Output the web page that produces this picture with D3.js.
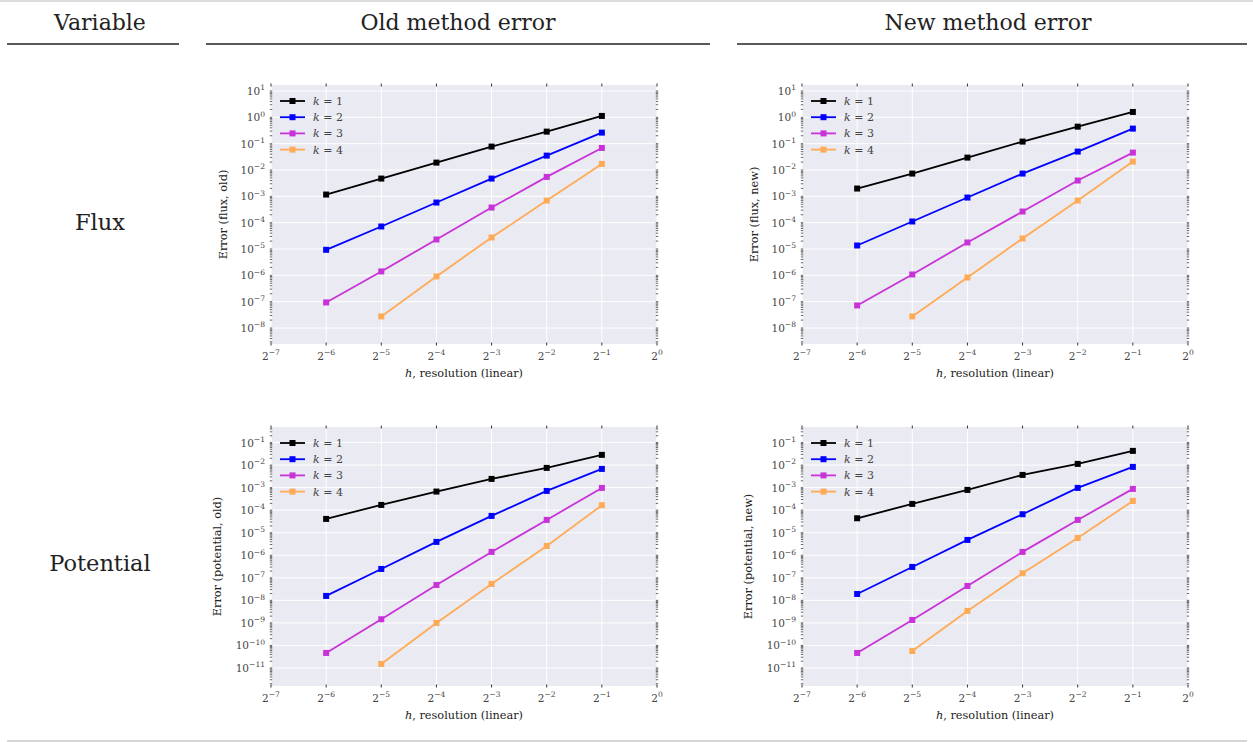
<!DOCTYPE html>
<html><head><meta charset="utf-8">
<script src="https://cdn.jsdelivr.net/npm/d3@7"></script>
<style>body{margin:0;background:#fff}svg{display:block}</style>
</head><body>
<svg id="c" width="1253" height="742"></svg>
<script>
// ---------- data ----------
const hValues = [1/64, 1/32, 1/16, 1/8, 1/4, 1/2];
const seriesNames = ["k = 1", "k = 2", "k = 3", "k = 4"];
const seriesColors = ["#000000", "#0000ff", "#c832d8", "#ffaa55"];
const headers = ["Variable", "Old method error", "New method error"];
const rowLabels = ["Flux", "Potential"];
const xTickExps = [-7, -6, -5, -4, -3, -2, -1, 0];
const fluxYTickExps = [1, 0, -1, -2, -3, -4, -5, -6, -7, -8];
const potYTickExps = [-1, -2, -3, -4, -5, -6, -7, -8, -9, -10, -11];

const fluxOld = [
  [1.17e-3, 4.73e-3, 1.91e-2, 7.75e-2, 2.87e-1, 1.13],
  [9.33e-6, 7.16e-5, 5.82e-4, 4.73e-3, 3.52e-2, 2.63e-1],
  [9.37e-8, 1.41e-6, 2.30e-5, 3.76e-4, 5.47e-3, 6.89e-2],
  [null, 2.76e-8, 9.08e-7, 2.74e-5, 6.92e-4, 1.70e-2]
];
const fluxNew = [
  [1.98e-3, 7.33e-3, 2.96e-2, 1.20e-1, 4.43e-1, 1.60],
  [1.36e-5, 1.11e-4, 9.0e-4, 7.33e-3, 5.0e-2, 3.73e-1],
  [7.2e-8, 1.08e-6, 1.77e-5, 2.65e-4, 3.98e-3, 4.58e-2],
  [null, 2.76e-8, 8.3e-7, 2.51e-5, 6.93e-4, 2.09e-2]
];
const potOld = [
  [4.09e-5, 1.71e-4, 6.69e-4, 2.44e-3, 7.52e-3, 2.84e-2],
  [1.57e-8, 2.47e-7, 3.91e-6, 5.57e-5, 7.16e-4, 6.78e-3],
  [4.63e-11, 1.45e-9, 4.82e-8, 1.41e-6, 3.70e-5, 9.73e-4],
  [null, 1.51e-11, 9.93e-10, 5.35e-8, 2.59e-6, 1.66e-4]
];
const potNew = [
  [4.38e-5, 1.90e-4, 7.93e-4, 3.67e-3, 1.13e-2, 4.27e-2],
  [1.92e-8, 3.03e-7, 4.79e-6, 6.61e-5, 9.73e-4, 8.32e-3],
  [4.63e-11, 1.35e-9, 4.35e-8, 1.41e-6, 3.70e-5, 8.79e-4],
  [null, 5.67e-11, 3.39e-9, 1.59e-7, 5.87e-6, 2.58e-4]
];

// ---------- layout ----------
const svg = d3.select("#c");
const SERIF = "DejaVu Serif, serif";
const panelW = 386, panelH = 259;

// table rules
svg.append("line").attr("x1",0).attr("x2",1253).attr("y1",1).attr("y2",1)
  .attr("stroke","#d0d0d0").attr("stroke-width",1.5);
svg.append("line").attr("x1",7).attr("x2",1247).attr("y1",741).attr("y2",741)
  .attr("stroke","#c8c8c8").attr("stroke-width",1.5);
const headerRules = [[7,179],[206,710],[737,1247]];
const headerCenters = [100, 458, 988];
headerRules.forEach(r => svg.append("line").attr("x1",r[0]).attr("x2",r[1])
  .attr("y1",44).attr("y2",44).attr("stroke","#222").attr("stroke-width",1.3));
headers.forEach((t,i) => svg.append("text").attr("x",headerCenters[i]).attr("y",30)
  .attr("text-anchor","middle").attr("font-family",SERIF).attr("font-size",22)
  .attr("fill","#222").text(t));
const rowCenters = [222, 563];
rowLabels.forEach((t,i) => svg.append("text").attr("x",100).attr("y",rowCenters[i]+8)
  .attr("text-anchor","middle").attr("font-family",SERIF).attr("font-size",22.5)
  .attr("fill","#222").text(t));

function supText(sel, base, exp, size) {
  sel.text(null);
  sel.append("tspan").text(base);
  sel.append("tspan").attr("dy", -size*0.45).attr("font-size", size*0.72)
    .text(exp < 0 ? "\u2212" + (-exp) : String(exp));
}

function panel(x0, y0, data, yExps, yDomLog, ylabel, ylabX) {
  const g = svg.append("g").attr("transform", `translate(${x0},${y0})`);
  const x = d3.scaleLog().base(2).domain([Math.pow(2,-7), 1]).range([0, panelW]);
  const y = d3.scaleLog().domain([Math.pow(10,yDomLog[0]), Math.pow(10,yDomLog[1])]).range([panelH, 0]);
  g.append("rect").attr("width",panelW).attr("height",panelH).attr("fill","#eaeaf2");
  // grid
  const yTicks = yExps.map(e => Math.pow(10,e));
  const xTicks = xTickExps.map(e => Math.pow(2,e));
  g.selectAll(".gy").data(yTicks).enter().append("line")
    .attr("x1",0).attr("x2",panelW).attr("y1",d=>y(d)).attr("y2",d=>y(d))
    .attr("stroke","#fff").attr("stroke-width",1);
  g.selectAll(".gx").data(xTicks).enter().append("line")
    .attr("y1",0).attr("y2",panelH).attr("x1",d=>x(d)).attr("x2",d=>x(d))
    .attr("stroke","#fff").attr("stroke-width",1);
  // minor ticks on left/right
  const minors = [];
  const lo = Math.floor(yDomLog[0]), hi = Math.ceil(yDomLog[1]);
  for (let e = lo; e <= hi; e++) for (let m = 1; m <= 9; m++) {
    const v = m*Math.pow(10,e);
    if (Math.log10(v) >= yDomLog[0] && Math.log10(v) <= yDomLog[1]) minors.push({v, major: m===1});
  }
  [0, panelW].forEach(px => {
    g.selectAll(null).data(minors).enter().append("line")
      .attr("x1",px-1.2).attr("x2",px+1.2).attr("y1",d=>y(d.v)).attr("y2",d=>y(d.v))
      .attr("stroke","#444").attr("stroke-width",0.8);
  });
  [0, panelH].forEach(py => {
    g.selectAll(null).data(xTicks).enter().append("line")
      .attr("y1",py-1.5).attr("y2",py+1.5).attr("x1",d=>x(d)).attr("x2",d=>x(d))
      .attr("stroke","#333").attr("stroke-width",1);
  });
  // y tick labels
  g.selectAll(".yl").data(yExps).enter().append("text")
    .attr("x",-6).attr("y",d=>y(Math.pow(10,d))+4).attr("text-anchor","end")
    .attr("font-family",SERIF).attr("font-size",10.5).attr("fill","#444")
    .each(function(d){ supText(d3.select(this), "10", d, 10.5); });
  // x tick labels
  g.selectAll(".xl").data(xTickExps).enter().append("text")
    .attr("x",d=>x(Math.pow(2,d))).attr("y",panelH+16).attr("text-anchor","middle")
    .attr("font-family",SERIF).attr("font-size",10.5).attr("fill","#444")
    .each(function(d){ supText(d3.select(this), "2", d, 10.5); });
  // axis labels
  const xl = g.append("text").attr("x",panelW/2).attr("y",panelH+33).attr("text-anchor","middle")
    .attr("font-family",SERIF).attr("font-size",11.3).attr("fill","#222");
  xl.append("tspan").attr("font-style","italic").text("h");
  xl.append("tspan").text(", resolution (linear)");
  g.append("text").attr("transform",`translate(${ylabX},${panelH/2}) rotate(-90)`)
    .attr("text-anchor","middle").attr("font-family",SERIF).attr("font-size",11.3)
    .attr("fill","#222").text(ylabel);
  // series
  const line = d3.line().defined(d=>d.v!=null).x(d=>x(d.h)).y(d=>y(d.v));
  data.forEach((s,i) => {
    const pts = s.map((v,j)=>({h:hValues[j], v}));
    g.append("path").datum(pts).attr("d",line).attr("fill","none")
      .attr("stroke",seriesColors[i]).attr("stroke-width",1.8);
    g.selectAll(null).data(pts.filter(p=>p.v!=null)).enter().append("rect")
      .attr("x",p=>x(p.h)-3).attr("y",p=>y(p.v)-3).attr("width",6).attr("height",6)
      .attr("fill",seriesColors[i]);
  });
  // legend
  const lg = g.append("g").attr("transform","translate(9,16)");
  seriesNames.forEach((n,i) => {
    const row = lg.append("g").attr("transform",`translate(0,${i*16.2})`);
    row.append("line").attr("x1",0).attr("x2",25).attr("stroke",seriesColors[i]).attr("stroke-width",1.8);
    row.append("rect").attr("x",9.5).attr("y",-3).attr("width",6).attr("height",6).attr("fill",seriesColors[i]);
    const t = row.append("text").attr("x",33).attr("y",4).attr("font-family",SERIF)
      .attr("font-size",11).attr("fill","#444");
    t.append("tspan").attr("font-style","italic").text("k");
    t.append("tspan").text(" = " + n.split("= ")[1]);
  });
}

panel(271, 85, fluxOld, fluxYTickExps, [-8.607, 1.228], "Error (flux, old)", -44);
panel(802, 85, fluxNew, fluxYTickExps, [-8.607, 1.228], "Error (flux, new)", -44);
panel(271, 427, potOld, potYTickExps, [-11.8, -0.31], "Error (potential, old)", -50);
panel(802, 427, potNew, potYTickExps, [-11.8, -0.31], "Error (potential, new)", -50);
</script>
</body></html>
